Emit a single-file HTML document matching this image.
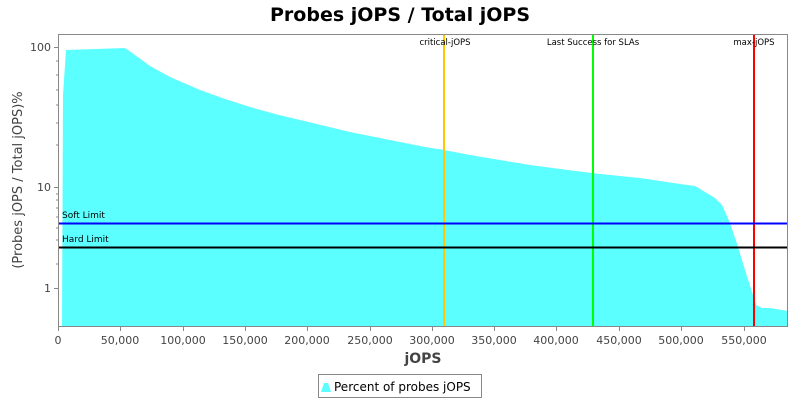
<!DOCTYPE html>
<html><head><style>body{margin:0;background:#fff}svg{display:block;font-family:"DejaVu Sans","Liberation Sans",sans-serif}</style></head><body>
<svg width="800" height="400" xmlns="http://www.w3.org/2000/svg">
<rect width="800" height="400" fill="#fff"/>
<text x="400" y="21" text-anchor="middle" font-size="19" font-weight="bold">Probes jOPS / Total jOPS</text>
<polygon fill="#5bffff" points="58,327 62,327 63,95 66,50 125,48 135,55 150,66 170,77 200,90 225,99 250,107 275,114 300,120 325,126 350,132 375,137 400,142 425,147 444,150 470,155 500,160 530,165 560,169 600,174 640,178 680,184 695,186 705,192 715,198 722,205 730,223 738,247 745,270 752,292 756,305 762,308 770,308 788,311 788,327"/>
<line x1="444" y1="34" x2="444" y2="327" stroke="#ffc800" stroke-width="2"/>
<line x1="593" y1="34" x2="593" y2="327" stroke="#00ff00" stroke-width="2"/>
<line x1="754" y1="34" x2="754" y2="327" stroke="#ff0000" stroke-width="2"/>
<line x1="58" y1="223.5" x2="788" y2="223.5" stroke="#0000ff" stroke-width="2"/>
<line x1="58" y1="247.5" x2="788" y2="247.5" stroke="#000" stroke-width="2"/>
<g font-size="9" fill="#000">
<text x="62" y="218">Soft Limit</text>
<text x="62" y="242">Hard Limit</text>
</g>
<g font-size="8.5" fill="#000" text-anchor="middle">
<text x="445" y="45">critical-jOPS</text>
<text x="593" y="45">Last Success for SLAs</text>
<text x="754" y="45">max-jOPS</text>
</g>
<rect x="58.5" y="34.5" width="729" height="292" fill="none" stroke="#888"/>
<g stroke="#888">
<line x1="54" y1="47.5" x2="58" y2="47.5"/><line x1="54" y1="187.5" x2="58" y2="187.5"/><line x1="54" y1="288.5" x2="58" y2="288.5"/>
<line x1="56" y1="61" x2="58" y2="61"/><line x1="56" y1="75" x2="58" y2="75"/><line x1="56" y1="90" x2="58" y2="90"/><line x1="56" y1="105" x2="58" y2="105"/><line x1="56" y1="123" x2="58" y2="123"/><line x1="56" y1="145" x2="58" y2="145"/>
<line x1="56" y1="194" x2="58" y2="194"/><line x1="56" y1="200" x2="58" y2="200"/><line x1="56" y1="208" x2="58" y2="208"/><line x1="56" y1="217" x2="58" y2="217"/><line x1="56" y1="228" x2="58" y2="228"/><line x1="56" y1="240" x2="58" y2="240"/><line x1="56" y1="264" x2="58" y2="264"/>
</g>
<g font-size="11" fill="#444" text-anchor="end">
<text x="51" y="51">100</text><text x="51" y="191">10</text><text x="51" y="292">1</text>
</g>
<text transform="translate(22,180) rotate(-90)" text-anchor="middle" font-size="13" fill="#444">(Probes jOPS / Total jOPS)%</text>
<g stroke="#888">
<line x1="58.5" y1="327" x2="58.5" y2="331"/><line x1="120.5" y1="327" x2="120.5" y2="331"/><line x1="183.5" y1="327" x2="183.5" y2="331"/><line x1="245.5" y1="327" x2="245.5" y2="331"/><line x1="307.5" y1="327" x2="307.5" y2="331"/><line x1="370.5" y1="327" x2="370.5" y2="331"/><line x1="432.5" y1="327" x2="432.5" y2="331"/><line x1="494.5" y1="327" x2="494.5" y2="331"/><line x1="556.5" y1="327" x2="556.5" y2="331"/><line x1="619.5" y1="327" x2="619.5" y2="331"/><line x1="681.5" y1="327" x2="681.5" y2="331"/><line x1="744.5" y1="327" x2="744.5" y2="331"/>
</g>
<g font-size="11" fill="#444" text-anchor="middle">
<text x="58" y="344">0</text><text x="120" y="344">50,000</text><text x="183" y="344">100,000</text><text x="245" y="344">150,000</text><text x="307" y="344">200,000</text><text x="370" y="344">250,000</text><text x="432" y="344">300,000</text><text x="494" y="344">350,000</text><text x="556" y="344">400,000</text><text x="619" y="344">450,000</text><text x="681" y="344">500,000</text><text x="744" y="344">550,000</text>
</g>
<text x="423" y="363" text-anchor="middle" font-size="14" font-weight="bold" fill="#444">jOPS</text>
<rect x="318.5" y="374.5" width="163" height="23" fill="#fff" stroke="#888"/>
<polygon points="321,392 324,383 328,383 331,392" fill="#5bffff"/>
<text x="334" y="391" font-size="12" fill="#000">Percent of probes jOPS</text>
</svg>
</body></html>
